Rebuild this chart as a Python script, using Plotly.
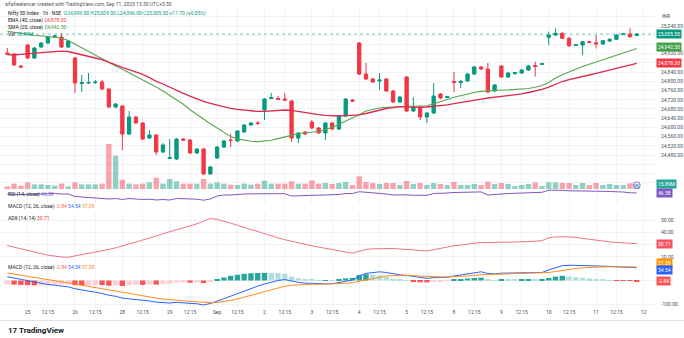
import plotly.graph_objects as go

# ------------------------------------------------------------------ data
open_ = [24923.0, 24918.6, 24866.5, 24957.7, 24901.3, 24949.0, 24966.4, 24992.5, 24992.5, 24949.0,
         24901.3, 24790.5, 24792.7, 24794.9, 24797.1, 24766.7, 24688.5, 24692.9, 24571.3, 24645.1,
         24619.0, 24553.9, 24566.9, 24493.1, 24464.9, 24462.7, 24549.6, 24545.2, 24488.8, 24506.1,
         24397.6, 24467.1, 24514.8, 24545.2, 24540.9, 24580.0, 24610.4, 24619.0, 24675.5, 24725.4,
         24725.4, 24723.2, 24714.6, 24553.9, 24580.0, 24623.4, 24597.3, 24575.6, 24619.0, 24593.0,
         24649.4, 24718.9, 24966.4, 24831.8, 24810.1, 24801.4, 24810.1, 24758.0, 24710.2, 24818.8,
         24671.1, 24688.5, 24645.1, 24662.5, 24745.0, 24729.8, 24799.2, 24794.9, 24801.4, 24831.8,
         24862.2, 24853.5, 24758.0, 24866.5, 24818.8, 24834.0, 24836.1, 24849.2, 24868.7, 24873.0,
         24991.1, 25001.1, 25008.5, 24986.8, 24955.5, 24957.7, 24972.0, 24967.7, 24962.1, 24975.1,
         24982.5, 25003.3, 25005.5, 24999.0]
high = [24944.7, 24923.0, 24870.9, 24962.1, 24949.0, 24970.7, 24996.8, 25001.1, 25008.5, 24979.4,
        24905.6, 24827.5, 24836.1, 24805.7, 24805.7, 24771.0, 24705.9, 24697.2, 24671.1, 24649.4,
        24623.4, 24588.6, 24571.3, 24532.2, 24549.6, 24553.9, 24553.9, 24549.6, 24510.5, 24510.5,
        24432.3, 24519.2, 24545.2, 24571.3, 24588.6, 24614.7, 24623.4, 24627.7, 24727.6, 24749.3,
        24736.3, 24749.3, 24718.9, 24580.0, 24584.3, 24632.1, 24601.7, 24623.4, 24623.4, 24653.8,
        24727.6, 24723.2, 24970.7, 24879.6, 24814.4, 24836.1, 24814.4, 24762.3, 24736.3, 24823.1,
        24731.9, 24692.9, 24666.8, 24792.7, 24749.3, 24736.3, 24840.5, 24805.7, 24836.1, 24866.5,
        24866.5, 24879.6, 24788.4, 24870.9, 24840.5, 24840.5, 24853.5, 24870.9, 24885.2, 24879.6,
        25015.5, 25030.2, 25014.2, 24992.5, 24962.1, 24975.1, 24975.1, 25001.1, 24979.4, 24986.8,
        25005.5, 25009.8, 25030.2, 25009.0]
low = [24914.3, 24866.5, 24857.8, 24896.9, 24896.9, 24944.7, 24962.1, 24988.1, 24944.7, 24944.7,
       24749.3, 24753.6, 24788.4, 24788.4, 24762.3, 24684.2, 24684.2, 24501.8, 24566.9, 24614.7,
       24545.2, 24549.6, 24480.1, 24488.8, 24462.7, 24458.4, 24540.9, 24484.4, 24484.4, 24393.3,
       24393.3, 24462.7, 24510.5, 24514.8, 24536.5, 24575.6, 24606.0, 24610.4, 24632.1, 24723.2,
       24718.9, 24714.6, 24536.5, 24532.2, 24566.9, 24593.0, 24571.3, 24545.2, 24588.6, 24588.6,
       24645.1, 24710.2, 24827.5, 24805.7, 24792.7, 24762.3, 24753.6, 24705.9, 24705.9, 24666.8,
       24666.8, 24632.1, 24619.0, 24658.1, 24723.2, 24727.6, 24753.6, 24771.0, 24797.1, 24827.5,
       24849.2, 24749.3, 24753.6, 24814.4, 24814.4, 24827.5, 24831.8, 24844.8, 24820.1, 24870.9,
       24957.7, 24996.8, 24983.8, 24949.0, 24953.4, 24914.3, 24966.4, 24943.4, 24957.7, 24970.7,
       24979.4, 25001.1, 24988.1, 24996.0]
close = [24918.6, 24870.9, 24862.2, 24901.3, 24944.7, 24966.4, 24992.5, 24996.8, 24949.0, 24975.1,
         24792.7, 24794.9, 24794.9, 24797.1, 24766.7, 24688.5, 24701.5, 24571.3, 24645.1, 24619.0,
         24549.6, 24566.9, 24493.1, 24523.5, 24469.2, 24549.6, 24545.2, 24488.8, 24506.1, 24397.6,
         24428.0, 24514.8, 24540.9, 24543.1, 24584.3, 24610.4, 24619.0, 24616.9, 24723.2, 24729.8,
         24721.1, 24718.9, 24553.9, 24575.6, 24571.3, 24597.3, 24575.6, 24619.0, 24593.0, 24649.4,
         24723.2, 24714.6, 24831.8, 24810.1, 24797.1, 24805.7, 24758.0, 24710.2, 24731.9, 24671.1,
         24688.5, 24645.1, 24662.5, 24736.3, 24727.6, 24734.1, 24794.9, 24799.2, 24831.8, 24862.2,
         24853.5, 24753.6, 24784.0, 24818.8, 24836.1, 24838.3, 24849.2, 24866.5, 24864.4, 24877.4,
         25001.1, 25008.5, 24986.8, 24954.7, 24959.0, 24972.0, 24969.4, 24962.1, 24976.4, 24982.5,
         25001.1, 25005.5, 24993.8, 25005.5]
volume_m = [8, 16, 10, 20, 14, 14, 12, 10, 16, 8,
            20, 14, 14, 14, 16, 135, 100, 28, 16, 14,
            16, 20, 34, 16, 30, 23, 16, 16, 16, 30,
            16, 20, 16, 13, 12, 16, 13, 16, 25, 16,
            16, 16, 23, 16, 16, 26, 16, 18, 15, 18,
            21, 12, 38, 21, 18, 15, 18, 18, 12, 24,
            15, 18, 12, 18, 15, 12, 21, 12, 12, 15,
            12, 22, 15, 18, 15, 9, 12, 15, 20, 9,
            20, 20, 18, 18, 12, 18, 12, 18, 12, 15,
            12, 12, 17, 15.89]
sma20 = [25017.6, 25014.2, 25008.5, 25004.2, 25000.3, 24997.7, 24994.2, 24990.7, 24988.1, 24977.3,
         24961.2, 24946.9, 24930.4, 24912.6, 24896.9, 24880.9, 24866.5, 24852.2, 24837.4, 24823.1,
         24808.4, 24792.7, 24775.3, 24758.0, 24738.9, 24720.2, 24700.2, 24676.8, 24655.9, 24635.1,
         24615.6, 24597.3, 24577.4, 24560.0, 24550.0, 24543.5, 24540.0, 24538.3, 24540.4, 24544.3,
         24551.3, 24559.5, 24566.9, 24573.0, 24576.5, 24580.0, 24582.1, 24589.5, 24599.5, 24612.5,
         24627.7, 24640.7, 24654.6, 24671.1, 24678.5, 24684.2, 24687.2, 24688.5, 24689.4, 24689.4,
         24689.8, 24690.7, 24693.7, 24702.4, 24710.2, 24721.1, 24730.6, 24738.4, 24746.7, 24751.5,
         24756.2, 24759.3, 24761.0, 24762.3, 24762.8, 24764.5, 24765.8, 24768.8, 24774.5, 24781.9,
         24794.9, 24814.4, 24828.3, 24841.8, 24852.6, 24864.4, 24873.9, 24883.9, 24894.3, 24903.0,
         24911.7, 24920.8, 24930.4, 24942.5]
ema40 = [24916.0, 24914.3, 24917.3, 24920.4, 24922.1, 24924.3, 24926.5, 24928.6, 24931.2, 24929.5,
         24923.0, 24916.9, 24910.0, 24901.3, 24893.9, 24882.2, 24871.3, 24860.5, 24850.9, 24841.8,
         24830.5, 24816.2, 24800.1, 24788.4, 24774.0, 24760.6, 24748.0, 24735.8, 24724.1, 24713.3,
         24704.6, 24696.3, 24687.6, 24682.4, 24678.1, 24674.6, 24671.6, 24669.4, 24669.4, 24672.0,
         24674.2, 24675.5, 24674.2, 24669.0, 24665.5, 24661.6, 24655.9, 24652.0, 24650.3, 24649.4,
         24651.2, 24652.9, 24654.6, 24660.3, 24667.7, 24675.5, 24682.0, 24686.3, 24689.8, 24689.4,
         24687.6, 24687.2, 24688.5, 24691.6, 24693.7, 24698.1, 24703.3, 24708.5, 24714.6, 24720.6,
         24723.2, 24727.6, 24730.6, 24734.1, 24737.6, 24741.5, 24745.4, 24751.5, 24757.1, 24765.4,
         24775.3, 24788.4, 24799.2, 24807.9, 24813.6, 24820.5, 24827.5, 24834.4, 24841.8, 24849.2,
         24855.7, 24863.5, 24870.9, 24878.3]
rsi14 = [42.5, 40.5, 40.5, 41.3, 42.5, 43.3, 44.5, 44.5, 42.5, 42.5,
         32.5, 30.5, 30.5, 28.5, 26.5, 22.5, 24.5, 20.5, 24.5, 22.5,
         20.5, 21.7, 18.5, 20.5, 18.5, 24.5, 23.7, 20.5, 21.7, 17.7,
         22.5, 34.5, 38.5, 38.5, 41.3, 42.5, 43.3, 43.3, 45.3, 45.3,
         44.5, 43.7, 34.5, 35.3, 34.5, 37.7, 36.5, 38.5, 37.3, 40.5,
         44.5, 44.5, 51.7, 49.3, 47.3, 47.3, 42.5, 38.5, 39.3, 39.3,
         37.3, 36.5, 37.3, 44.5, 44.5, 46.5, 48.5, 49.3, 50.5, 51.7,
         50.9, 38.5, 40.5, 44.5, 44.5, 45.3, 46.5, 48.5, 48.5, 49.3,
         57.7, 58.5, 57.3, 55.3, 55.3, 56.1, 55.3, 53.3, 53.3, 52.5,
         52.5, 50.5, 47.3, 46.58]
adx14 = [29.2, 28.0, 26.8, 25.5, 24.0, 22.6, 21.3, 20.4, 19.8, 19.6,
         20.6, 21.6, 22.5, 23.4, 24.4, 26.0, 27.3, 29.1, 30.6, 32.0,
         33.8, 35.3, 37.0, 38.6, 40.5, 42.2, 43.7, 45.3, 47.0, 49.2,
         51.4, 50.6, 49.3, 47.6, 45.8, 44.0, 42.2, 40.4, 38.6, 37.0,
         35.5, 34.0, 32.6, 31.2, 30.2, 29.0, 27.9, 26.8, 25.7, 24.6,
         23.5, 22.9, 24.5, 26.0, 26.5, 26.8, 27.0, 26.8, 26.3, 26.1,
         25.7, 25.0, 24.8, 25.8, 27.0, 27.8, 29.0, 29.6, 30.5, 31.1,
         31.6, 31.9, 31.9, 31.9, 31.9, 32.0, 32.2, 32.4, 32.7, 33.2,
         35.5, 36.3, 36.6, 36.3, 35.8, 35.1, 34.0, 33.2, 32.7, 32.2,
         31.8, 31.4, 31.0, 30.71]
macd_line = [16, 10, 4, -2, -8, -13, -17, -20, -23, -27,
             -35, -41, -46, -50, -55, -63, -67, -75, -78, -80,
             -85, -87, -92, -94, -96, -93, -94, -98, -99, -104,
             -98, -88, -77, -65, -54, -43, -33, -24, -15, -7,
             0, 4, -3, -8, -11, -13, -15, -14, -14, -10,
             -3, 2, 20, 30, 35, 37, 34, 28, 24, 22,
             17, 11, 9, 12, 13, 14, 19, 23, 28, 33,
             37, 30, 28, 31, 31, 31, 32, 33, 33, 34,
             45, 55, 63, 65, 65, 65, 64, 62, 61, 60,
             58, 57, 56, 54.54]
signal_line = [32, 27.6, 22.9, 17.9, 12.7, 7.6, 2.7, -1.8, -6.0, -10.2,
               -15.2, -20.4, -25.5, -30.4, -35.3, -40.8, -46.0, -51.8, -57.0, -61.6,
               -66.3, -70.4, -74.7, -78.6, -82.1, -84.3, -86.2, -88.6, -90.7, -93.4,
               -94.3, -93.0, -89.8, -84.8, -78.6, -71.5, -63.8, -55.8, -47.6, -39.5,
               -31.6, -24.5, -20.2, -17.8, -16.4, -15.7, -15.6, -15.3, -15.0, -14.0,
               -11.8, -9.0, -3.2, 3.4, 9.7, 15.2, 19.0, 20.8, 21.4, 21.5,
               20.6, 18.7, 16.8, 15.8, 15.2, 15.0, 15.8, 17.2, 19.4, 22.1,
               25.1, 26.1, 26.5, 27.4, 28.1, 28.7, 29.4, 30.1, 30.7, 31.4,
               34.1, 38.3, 43.2, 47.6, 51.1, 53.9, 55.9, 57.1, 57.9, 58.3,
               58.2, 58.0, 57.6, 57.38]
macd_hist = [-16, -17.6, -18.9, -19.9, -20.7, -20.6, -19.7, -18.2, -17.0, -16.8,
             -19.8, -20.6, -20.5, -19.6, -19.7, -22.2, -21.0, -23.2, -21.0, -18.4,
             -18.7, -16.6, -17.3, -15.4, -13.9, -8.7, -7.8, -9.4, -8.3, -10.6,
             -3.7, 5.0, 12.8, 19.8, 24.6, 28.5, 30.8, 31.8, 32.6, 32.5,
             31.6, 28.5, 17.2, 9.8, 5.4, 2.7, 0.6, 1.3, 1.0, 4.0,
             8.8, 11.0, 23.2, 26.6, 25.3, 21.8, 15.0, 7.2, 2.6, 0.5,
             -3.6, -7.7, -7.8, -3.8, -2.2, -1.0, 3.2, 5.8, 8.6, 10.9,
             11.9, 3.9, 1.5, 3.6, 2.9, 2.3, 2.6, 2.9, 2.3, 2.6,
             10.9, 16.7, 19.8, 17.4, 13.9, 11.1, 8.1, 4.9, 3.1, 1.7,
             -0.2, -1.0, -1.6, -2.84]
time_tick_pos = [3, 6, 10, 13, 17, 20, 24, 27, 31, 34, 38, 41, 45, 48, 52, 55,
                 59, 62, 66, 69, 73, 76, 80, 83, 87, 90, 94]
time_tick_text = ["25", "12:15", "26", "12:15", "28", "12:15", "29", "12:15", "Sep", "12:15",
                  "2", "12:15", "3", "12:15", "4", "12:15", "5", "12:15", "8", "12:15",
                  "9", "12:15", "10", "12:15", "11", "12:15", "12"]
price_ticks = [24360, 24400, 24440, 24480, 24520, 24560, 24600, 24640, 24680, 24720,
               24760, 24800, 24840, 24880, 24920, 24960, 25000, 25040, 25080]
price_hidden = [24360, 24400, 24440, 24880, 24960, 25000, 25080]
adx_ticks = [20, 30, 40, 50]
adx_hidden = [30]
macd_ticks = [-100, 0]
macd_hidden = [0]

# ------------------------------------------------------------------ style / geometry
W, H = 684, 338
R_MARGIN = 29
PLOT_W = W - R_MARGIN
FONT = "Roboto, Arial, sans-serif"
TXT = "#131722"
AX = "#4A4E59"
GRID = "#F1F2F5"
UP = "#089981"
DN = "#F23645"


def py(px):
    return 1 - px / H


def pxx(px):
    return px / PLOT_W


x = list(range(len(close)))
is_up = [c >= o for o, c in zip(open_, close)]
vol_colors = ["rgba(8,153,129,0.45)" if u else "rgba(242,54,69,0.45)" for u in is_up]

hist_colors = []
for i, h in enumerate(macd_hist):
    prev = macd_hist[i - 1] if i > 0 else h
    if h >= 0:
        hist_colors.append("#26A69A" if h >= prev else "#B2DFDB")
    else:
        hist_colors.append("#FF5252" if h < prev else "#FFCDD2")

fig = go.Figure()
fig.add_trace(go.Candlestick(
    x=x, open=open_, high=high, low=low, close=close, xaxis="x", yaxis="y",
    increasing=dict(line=dict(color=UP, width=1), fillcolor=UP),
    decreasing=dict(line=dict(color=DN, width=1), fillcolor=DN),
    whiskerwidth=0, hoverinfo="skip"))
fig.add_trace(go.Scatter(x=x, y=sma20, mode="lines", line=dict(color="#5AA64E", width=1.1),
                         xaxis="x", yaxis="y", hoverinfo="skip"))
fig.add_trace(go.Scatter(x=x, y=ema40, mode="lines", line=dict(color="#DC2A4C", width=1.3),
                         xaxis="x", yaxis="y", hoverinfo="skip"))
fig.add_trace(go.Bar(x=x, y=volume_m, marker=dict(color=vol_colors, line=dict(width=0)), width=0.8,
                     xaxis="x", yaxis="y2", hoverinfo="skip"))
fig.add_trace(go.Scatter(x=[x[-1]], y=[volume_m[-1] * 0.7], mode="markers",
                         marker=dict(symbol="circle-open-dot", size=7, color="#9C6ADE",
                                     line=dict(width=1, color="#9C6ADE")),
                         xaxis="x", yaxis="y2", hoverinfo="skip"))
fig.add_trace(go.Scatter(x=x, y=rsi14, mode="lines", line=dict(color="#7E57C2", width=1),
                         xaxis="x", yaxis="y3", hoverinfo="skip"))
fig.add_trace(go.Scatter(x=x, y=adx14, mode="lines", line=dict(color="#F07480", width=1),
                         xaxis="x", yaxis="y4", hoverinfo="skip"))
fig.add_trace(go.Bar(x=x, y=macd_hist, marker=dict(color=hist_colors, line=dict(width=0)), width=0.8,
                     xaxis="x", yaxis="y5", hoverinfo="skip"))
fig.add_trace(go.Scatter(x=x, y=macd_line, mode="lines", line=dict(color="#2962FF", width=1),
                         xaxis="x", yaxis="y5", hoverinfo="skip"))
fig.add_trace(go.Scatter(x=x, y=signal_line, mode="lines", line=dict(color="#FF8A1E", width=1),
                         xaxis="x", yaxis="y5", hoverinfo="skip"))


def ticktext(vals, hidden):
    return ["" if v in hidden else f"{v:,.2f}" for v in vals]


yax_common = dict(side="right", anchor="x", zeroline=False, showline=False, ticks="outside",
                  ticklen=4, tickcolor="rgba(0,0,0,0)", tickfont=dict(size=5, color=AX, family=FONT),
                  gridcolor=GRID, gridwidth=1, fixedrange=True)

fig.update_layout(
    width=W, height=H, margin=dict(l=0, r=R_MARGIN, t=0, b=0),
    paper_bgcolor="white", plot_bgcolor="white", showlegend=False,
    font=dict(family=FONT, size=5, color=TXT), bargap=0.2,
    xaxis=dict(range=[-1.08, 95.7], tickmode="array", tickvals=time_tick_pos, ticktext=time_tick_text,
               tickangle=0, showgrid=True, gridcolor=GRID, zeroline=False, showline=False, ticks="",
               tickfont=dict(size=5, color=AX, family=FONT), anchor="y5",
               rangeslider=dict(visible=False), fixedrange=True),
    yaxis=dict(domain=[py(189), py(8)], range=[24332.5, 25118.4], tickmode="array",
               tickvals=price_ticks, ticktext=ticktext(price_ticks, price_hidden), **yax_common),
    yaxis2=dict(overlaying="y", range=[0, 543], visible=False, fixedrange=True),
    yaxis3=dict(domain=[py(204), py(189)], range=[2.5, 62.5], visible=False, fixedrange=True, anchor="x"),
    yaxis4=dict(domain=[py(262), py(212)], range=[15.7, 56.7], tickmode="array", tickvals=adx_ticks,
                ticktext=ticktext(adx_ticks, adx_hidden), **yax_common),
    yaxis5=dict(domain=[py(308), py(262)], range=[-117, 78.7], tickmode="array", tickvals=macd_ticks,
                ticktext=ticktext(macd_ticks, macd_hidden), **yax_common),
)

# last price dotted line + frame line
fig.add_shape(type="line", xref="paper", x0=0, x1=1, yref="y", y0=close[-1], y1=close[-1],
              line=dict(color="rgba(8,153,129,0.55)", width=1, dash="dot"))
fig.add_shape(type="line", xref="paper", x0=0, x1=W / PLOT_W, yref="paper", y0=py(320.5), y1=py(320.5),
              line=dict(color="#E0E3EB", width=1))

ann = []


def text(xpx, ypx, t, size=5, color=TXT):
    ann.append(dict(xref="paper", yref="paper", x=pxx(xpx), y=py(ypx), xanchor="left", yanchor="middle",
                    text=t, showarrow=False, font=dict(size=size, color=color, family=FONT)))


def box(t, yref, yval, color, yshift=0, fcolor="white"):
    ann.append(dict(xref="paper", x=1, xanchor="left", xshift=1, yref=yref, y=yval, yanchor="middle",
                    yshift=yshift, text=t, showarrow=False, bgcolor=color, borderpad=1.0,
                    font=dict(size=5, color=fcolor, family=FONT)))


chg = close[-1] - close[-2]
pct = chg / close[-2] * 100
text(3, 4, "alfafreelancer created with TradingView.com, Sep 11, 2025 15:30 UTC+5:30", size=5, color="#50535E")
text(6, 13.5, "Nifty 50 Index · 1h · NSE  "
     f"<span style='color:{UP}'>O{open_[-1]:,.2f} H{high[-1]:,.2f} L{low[-1]:,.2f} "
     f"C{close[-1]:,.2f} {chg:+.2f} ({pct:+.2f}%)</span>")
text(6, 20.7, f"EMA (40, close) <span style='color:{DN}'>{ema40[-1]:,.2f}</span>")
text(6, 27.5, f"SMA (20, close) <span style='color:#43A047'>{sma20[-1]:,.2f}</span>")
text(6, 34.3, f"Vol <span style='color:{UP}'>{volume_m[-1]:.2f}M</span>")
text(6, 195, f"RSI (14, close) <span style='color:#7E57C2'>{rsi14[-1]:.2f}</span>")
macd_leg = (f"MACD (12, 26, close) <span style='color:#FF5252'>{macd_hist[-1]:.2f}</span> "
            f"<span style='color:#2962FF'>{macd_line[-1]:.2f}</span> "
            f"<span style='color:#FF8A1E'>{signal_line[-1]:.2f}</span>")
text(6, 206, macd_leg)
text(6, 218, f"ADX (14, 14) <span style='color:{DN}'>{adx14[-1]:.2f}</span>")
text(6, 267.5, macd_leg)
text(6, 330, "<b>17 TradingView</b>", size=8, color=TXT)
ann.append(dict(xref="paper", yref="paper", x=pxx(660), y=py(16), xanchor="left", yanchor="middle",
                text="INR", showarrow=False, font=dict(size=5, color=AX, family=FONT)))

box(f"{close[-1]:,.2f}", "y", close[-1], UP)
box(f"{sma20[-1]:,.2f}", "y", sma20[-1], "#43A047", yshift=2)
box(f"{ema40[-1]:,.2f}", "y", ema40[-1], DN)
box(f"{volume_m[-1]:.2f}M", "y2", volume_m[-1], "#26A69A")
box(f"{rsi14[-1]:.2f}", "y3", rsi14[-1], "#7E57C2")
box(f"{adx14[-1]:.2f}", "y4", adx14[-1], "#F7525F")
box(f"{signal_line[-1]:.2f}", "y5", signal_line[-1], "#FF9800", yshift=4)
box(f"{macd_line[-1]:.2f}", "y5", macd_line[-1], "#2962FF", yshift=-2)
box(f"{macd_hist[-1]:.2f}", "y5", macd_hist[-1], "#FF5252")

fig.update_layout(annotations=ann)
fig.write_html("out.html")
